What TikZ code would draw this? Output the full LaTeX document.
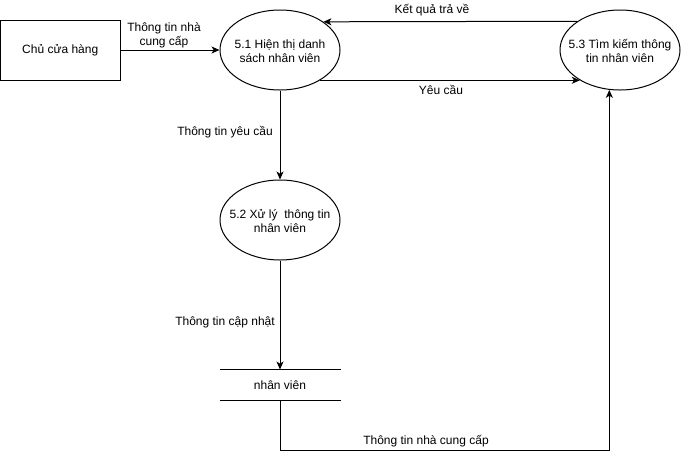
\documentclass[tikz,border=0pt]{standalone}
\usepackage{fontspec}
\setmainfont{Liberation Sans}
\usetikzlibrary{shapes.geometric,arrows.meta}
\tikzset{
  every node/.style={font=\fontsize{12pt}{14pt}\selectfont},
  proc/.style={draw, ellipse, minimum width=120pt, minimum height=80pt, inner sep=0pt},
  ent/.style={draw, rectangle, minimum width=119.5pt, minimum height=60pt, inner sep=0pt},
  store/.style={rectangle, minimum width=120pt, minimum height=30pt, inner sep=0pt},
  lbl/.style={align=center, inner sep=0pt},
  flow/.style={-{Stealth[length=8pt,width=7pt,inset=2.2pt]}}
}
\begin{document}
\begin{tikzpicture}[x=1pt,y=-1pt,line width=1pt]
\useasboundingbox (0,0) rectangle (681,459);
% entities and processes
\node[ent] (chu) at (60.25,50) {};
\node[lbl] (chut) at (chu) {Chủ cửa hàng};
\node[proc] (p51) at (280,50) {};
\node[lbl] (p51t) at (280,51) {5.1 Hiện thị danh\\sách nhân viên};
\node[proc] (p53) at (620,50) {};
\node[lbl] (p53t) at (620,51) {5.3 Tìm kiếm thông\\tin nhân viên};
\node[proc] (p52) at (280,220) {};
\node[lbl] (p52t) at (280,221) {5.2 Xử lý\ \ thông tin\\nhân viên};
\node[store] (ds) at (280,385) {};
\node[lbl] (dst) at (ds) {nhân viên};
\draw (ds.north west) -- (ds.north east);
\draw (ds.south west) -- (ds.south east);
% flows
\draw[flow] (chu.east) -- (p51.west);
\draw[flow] (p53.146.8) -- (p51.33.2);
\draw[flow] (p51.-37.1) -- (p53.217.1);
\draw[flow] (p51.south) -- (p52.north);
\draw[flow] (p52.south) -- (ds.north);
\draw[flow] (ds.south) -- ++(0,50) -| (p53.255.8);
% labels
\node[lbl] (l1) at (164,35) {Thông tin nhà\\cung cấp};
\node[lbl] (l2) at (432,10) {Kết quả trả về};
\node[lbl] (l3) at (441,90) {Yêu cầu};
\node[lbl] (l4) at (225,132) {Thông tin yêu cầu};
\node[lbl] (l5) at (225,322) {Thông tin cập nhật};
\node[lbl] (l6) at (426,441) {Thông tin nhà cung cấp};
\end{tikzpicture}
\end{document}
